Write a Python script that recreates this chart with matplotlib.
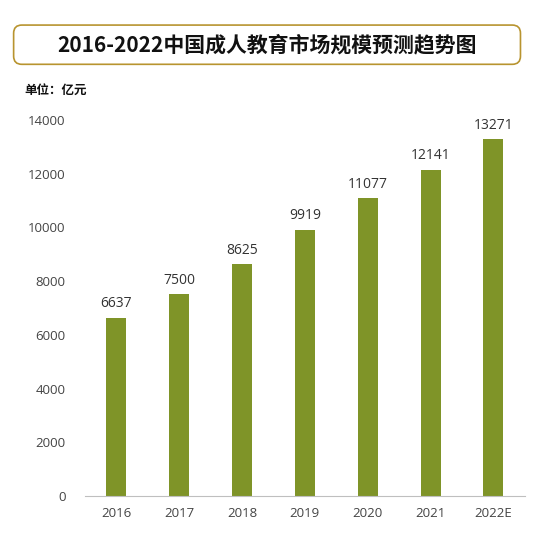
import matplotlib
matplotlib.use("Agg")
import matplotlib.pyplot as plt
from matplotlib.patches import FancyBboxPatch

plt.rcParams['font.family'] = ['Noto Sans CJK SC', 'DejaVu Sans']

years = ["2016", "2017", "2018", "2019", "2020", "2021", "2022E"]
values = [6637, 7500, 8625, 9919, 11077, 12141, 13271]
yticks = [0, 2000, 4000, 6000, 8000, 10000, 12000, 14000]

num_font = ['Open Sans', 'DejaVu Sans']

fig = plt.figure(figsize=(5.45, 5.45), dpi=100)
ax = fig.add_axes([0.156, 0.09, 0.807, 0.69])
x = range(len(years))
ax.bar(x, values, width=0.32, color="#7f9428")
for i, v in enumerate(values):
    ax.text(i, v + 250, str(v), ha="center", va="bottom", fontsize=10, color="#333333", family=num_font)
ax.set_xlim(-0.5, len(years) - 0.5)
ax.set_ylim(0, 14000)
ax.set_yticks(yticks)
ax.set_xticks(list(x))
ax.set_xticklabels(years)
for lab in ax.get_xticklabels() + ax.get_yticklabels():
    lab.set_family(num_font)
ax.tick_params(axis="both", length=0, labelsize=9.5, colors="#444444")
ax.tick_params(axis="y", pad=14)
ax.tick_params(axis="x", pad=8)
for s in ["top", "right", "left"]:
    ax.spines[s].set_visible(False)
ax.spines["bottom"].set_color("#bfbfbf")

box = FancyBboxPatch((0.025, 0.882), 0.93, 0.072, boxstyle="round,pad=0,rounding_size=0.015",
                     transform=fig.transFigure, facecolor="white", edgecolor="#b8942f", linewidth=1.2)
fig.patches.append(box)
fig.text(0.49, 0.918, "2016-2022中国成人教育市场规模预测趋势图", ha="center", va="center",
         fontsize=15, fontweight="bold", color="#111111")
fig.text(0.045, 0.835, "单位：亿元", ha="left", va="center", fontsize=9, fontweight="bold", color="#111111")

fig.savefig("out.png", dpi=100)
